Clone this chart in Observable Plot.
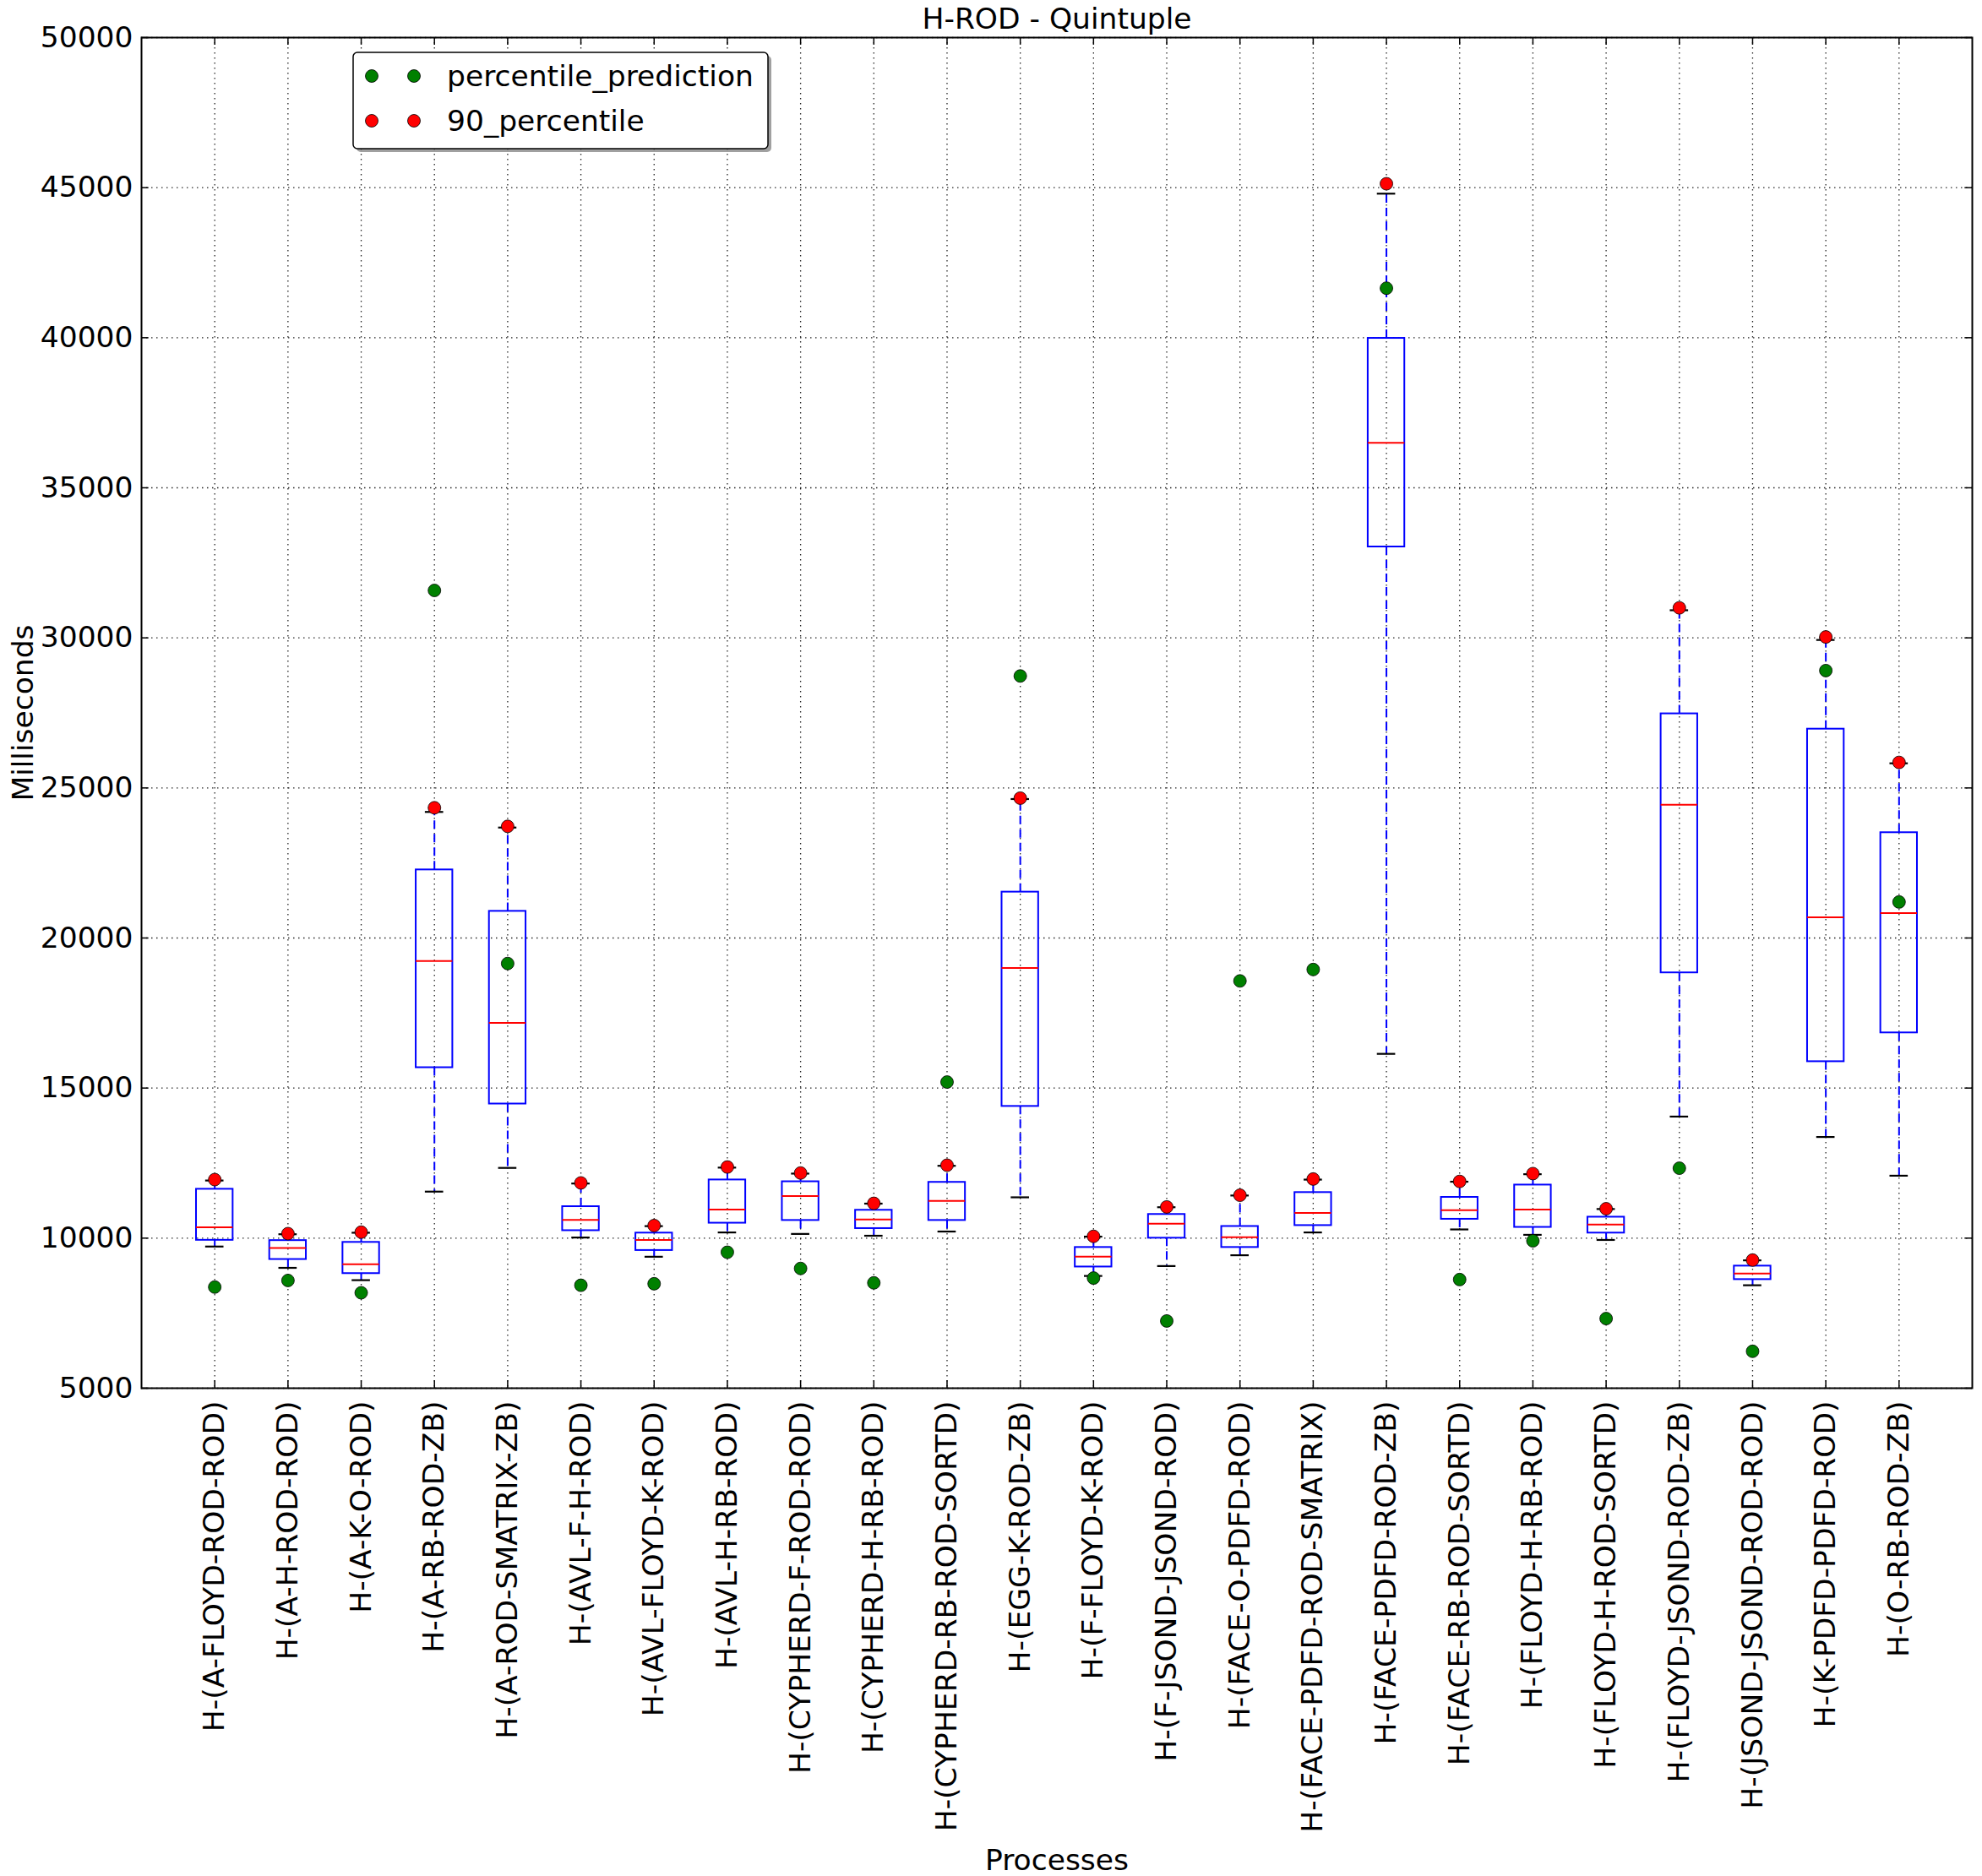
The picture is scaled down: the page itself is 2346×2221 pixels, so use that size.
<!DOCTYPE html>
<html>
<head>
<meta charset="utf-8">
<script src="https://cdn.jsdelivr.net/npm/d3@7"></script>
<script src="https://cdn.jsdelivr.net/npm/@observablehq/plot@0.6"></script>
<style>
  html, body { margin: 0; padding: 0; background: white; }
</style>
</head>
<body>
<div id="chart"></div>
<script>
const title = "H-ROD - Quintuple";
const xLabel = "Processes";
const yLabel = "Milliseconds";
const seriesNames = ["percentile_prediction", "90_percentile"];

const categories = [
  "H-(A-FLOYD-ROD-ROD)", "H-(A-H-ROD-ROD)", "H-(A-K-O-ROD)", "H-(A-RB-ROD-ZB)",
  "H-(A-ROD-SMATRIX-ZB)", "H-(AVL-F-H-ROD)", "H-(AVL-FLOYD-K-ROD)", "H-(AVL-H-RB-ROD)",
  "H-(CYPHERD-F-ROD-ROD)", "H-(CYPHERD-H-RB-ROD)", "H-(CYPHERD-RB-ROD-SORTD)", "H-(EGG-K-ROD-ZB)",
  "H-(F-FLOYD-K-ROD)", "H-(F-JSOND-JSOND-ROD)", "H-(FACE-O-PDFD-ROD)", "H-(FACE-PDFD-ROD-SMATRIX)",
  "H-(FACE-PDFD-ROD-ZB)", "H-(FACE-RB-ROD-SORTD)", "H-(FLOYD-H-RB-ROD)", "H-(FLOYD-H-ROD-SORTD)",
  "H-(FLOYD-JSOND-ROD-ZB)", "H-(JSOND-JSOND-ROD-ROD)", "H-(K-PDFD-PDFD-ROD)", "H-(O-RB-ROD-ZB)"
];

const whiskerLow  = [9720, 9010, 8600, 11550, 12340, 10020, 9380, 10190, 10140, 10080, 10220, 11360, 8740, 9070, 9430, 10190, 16140, 10290, 10110, 9940, 14050, 8430, 13370, 12080];
const q1          = [9930, 9290, 8820, 15680, 14470, 10250, 9590, 10500, 10590, 10320, 10590, 14390, 9040, 10000, 9690, 10420, 33030, 10630, 10360, 10170, 18840, 8620, 15880, 16840];
const median      = [10360, 9670, 9130, 19230, 17170, 10610, 9940, 10950, 11400, 10620, 11240, 19000, 9380, 10480, 10030, 10840, 36500, 10930, 10950, 10450, 24440, 8820, 20690, 20830];
const q3          = [11630, 9920, 9860, 22270, 20890, 11050, 10170, 11940, 11880, 10930, 11860, 21530, 9690, 10790, 10390, 11520, 39980, 11360, 11770, 10700, 27470, 9070, 26960, 23510];
const whiskerHigh = [11920, 10130, 10180, 24200, 23680, 11820, 10400, 12350, 12150, 11150, 12410, 24630, 10050, 11030, 11420, 11950, 44800, 11880, 12130, 10970, 30920, 9260, 29930, 25820];
const p90         = [11950, 10150, 10200, 24340, 23720, 11840, 10420, 12370, 12170, 11160, 12430, 24660, 10060, 11040, 11430, 11970, 45130, 11890, 12150, 10980, 31000, 9270, 30030, 25850];
const prediction  = [8370, 8590, 8180, 31580, 19150, 8430, 8480, 9530, 8990, 8510, 15200, 28730, 8670, 7240, 18570, 18950, 41650, 8620, 9910, 7320, 12330, 6230, 28910, 21200];

const yTicks = [5000, 10000, 15000, 20000, 25000, 30000, 35000, 40000, 45000, 50000];

const rows = categories.map((name, k) => ({
  i: k + 1, name,
  lo: whiskerLow[k], q1: q1[k], med: median[k], q3: q3[k], hi: whiskerHigh[k],
  p90: p90[k], pred: prediction[k]
}));
const positions = rows.map(d => d.i);

const BLUE = "#0000ff", RED = "#ff0000", GREEN = "#008000";
const FS = 34.5;
const grid = {stroke: "#000", strokeOpacity: 0.85, strokeWidth: 1.3, strokeDasharray: "1.5,4.5"};

const chart = Plot.plot({
  width: 2346,
  height: 2221,
  marginLeft: 167,
  marginRight: 12,
  marginTop: 44,
  marginBottom: 578,
  style: {fontFamily: "'DejaVu Sans', sans-serif", fontSize: FS + "px", background: "white", color: "black", overflow: "visible"},
  x: {type: "linear", domain: [0, 25], ticks: positions, tickFormat: i => categories[i - 1], tickRotate: -90, tickSize: 0, tickPadding: 15, label: null},
  y: {type: "linear", domain: [5000, 50000], ticks: yTicks, tickFormat: d => String(d), tickSize: 0, tickPadding: 10, label: null},
  marks: [
    // dotted grid
    Plot.ruleY(yTicks, {...grid}),
    Plot.ruleX(positions, {...grid}),
    // inside tick marks
    Plot.ruleY(yTicks, {x1: 0, x2: 0.1, stroke: "black", strokeWidth: 1.5}),
    Plot.ruleY(yTicks, {x1: 24.9, x2: 25, stroke: "black", strokeWidth: 1.5}),
    Plot.ruleX(positions, {y1: 5000, y2: 5250, stroke: "black", strokeWidth: 1.5}),
    Plot.ruleX(positions, {y1: 49750, y2: 50000, stroke: "black", strokeWidth: 1.5}),
    // whiskers
    Plot.ruleX(rows, {x: "i", y1: "q3", y2: "hi", stroke: BLUE, strokeWidth: 2, strokeDasharray: "10,6"}),
    Plot.ruleX(rows, {x: "i", y1: "q1", y2: "lo", stroke: BLUE, strokeWidth: 2, strokeDasharray: "10,6"}),
    // caps
    Plot.ruleY(rows, {y: "hi", x1: d => d.i - 0.125, x2: d => d.i + 0.125, stroke: "black", strokeWidth: 2.2}),
    Plot.ruleY(rows, {y: "lo", x1: d => d.i - 0.125, x2: d => d.i + 0.125, stroke: "black", strokeWidth: 2.2}),
    // boxes
    Plot.rect(rows, {x1: d => d.i - 0.25, x2: d => d.i + 0.25, y1: "q1", y2: "q3", fill: "none", stroke: BLUE, strokeWidth: 2}),
    // medians
    Plot.ruleY(rows, {y: "med", x1: d => d.i - 0.25, x2: d => d.i + 0.25, stroke: RED, strokeWidth: 2}),
    // points
    Plot.dot(rows, {x: "i", y: "pred", r: 7.5, fill: GREEN, stroke: "black", strokeWidth: 0.8}),
    Plot.dot(rows, {x: "i", y: "p90", r: 7.5, fill: RED, stroke: "black", strokeWidth: 0.8}),
    // frame
    Plot.frame({stroke: "black", strokeWidth: 2}),
    // title & axis labels
    Plot.text([title], {frameAnchor: "top", dy: -22, lineAnchor: "middle", fontSize: FS, fill: "black"}),
    Plot.text([yLabel], {frameAnchor: "left", dx: -140, rotate: -90, lineAnchor: "middle", textAnchor: "middle", fontSize: FS, fill: "black"}),
    Plot.text([xLabel], {frameAnchor: "bottom", dy: 559, lineAnchor: "middle", fontSize: FS, fill: "black"})
  ]
});

document.getElementById("chart").appendChild(chart);

// legend (upper-left, inside axes)
const svg = d3.select(chart);
const lg = svg.append("g")
  .attr("font-family", "'DejaVu Sans', sans-serif")
  .attr("font-size", FS)
  .attr("text-anchor", "start");
const lx = 418, ly = 62, lw = 491, lh = 114;
lg.append("rect").attr("x", lx + 4).attr("y", ly + 4).attr("width", lw).attr("height", lh).attr("rx", 5).attr("fill", "#777").attr("opacity", 0.7);
lg.append("rect").attr("x", lx).attr("y", ly).attr("width", lw).attr("height", lh).attr("rx", 5).attr("fill", "white").attr("stroke", "black").attr("stroke-width", 1.5);
const legendColors = [GREEN, RED];
seriesNames.forEach((name, k) => {
  const cy = ly + 28 + k * 53;
  [lx + 22, lx + 72].forEach(cx => {
    lg.append("circle").attr("cx", cx).attr("cy", cy).attr("r", 7.5).attr("fill", legendColors[k]).attr("stroke", "black").attr("stroke-width", 0.8);
  });
  lg.append("text").attr("x", lx + 111).attr("y", cy).attr("dy", "0.35em").attr("text-anchor", "start").attr("fill", "black").text(name);
});
</script>
</body>
</html>
